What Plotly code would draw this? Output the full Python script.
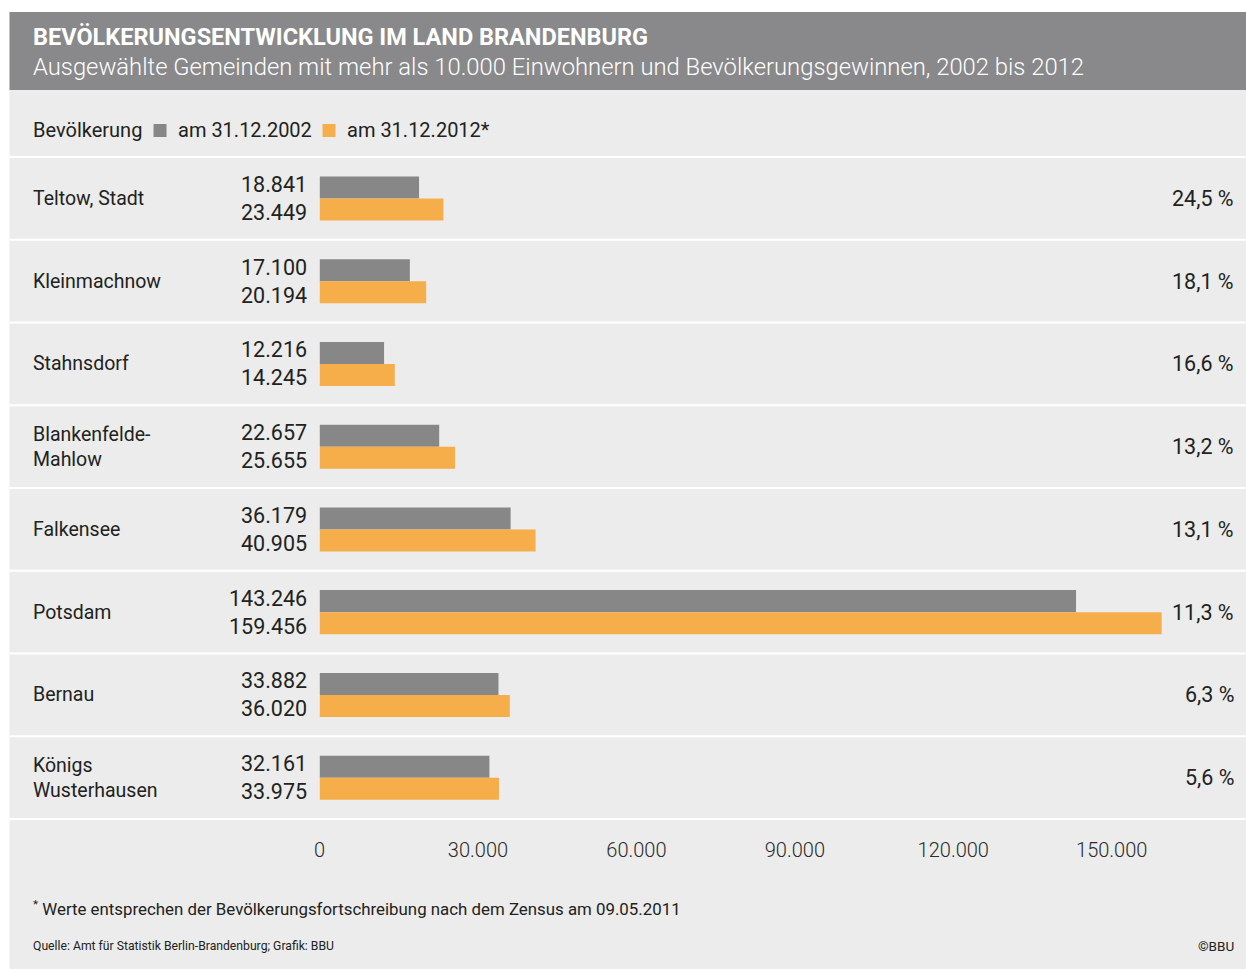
import plotly.graph_objects as go

# ---------------- data ----------------
gemeinden = ["Teltow, Stadt", "Kleinmachnow", "Stahnsdorf", "Blankenfelde-<br>Mahlow",
             "Falkensee", "Potsdam", "Bernau", "Königs<br>Wusterhausen"]
bev_2002 = [18841, 17100, 12216, 22657, 36179, 143246, 33882, 32161]
bev_2012 = [23449, 20194, 14245, 25655, 40905, 159456, 36020, 33975]
gewinn_pct = [24.5, 18.1, 16.6, 13.2, 13.1, 11.3, 6.3, 5.6]
tick_vals = [0, 30000, 60000, 90000, 120000, 150000]
tick_text = ["0", "30.000", "60.000", "90.000", "120.000", "150.000"]

title = "BEVÖLKERUNGSENTWICKLUNG IM LAND BRANDENBURG"
subtitle = "Ausgewählte Gemeinden mit mehr als 10.000 Einwohnern und Bevölkerungsgewinnen, 2002 bis 2012"
legend_title = "Bevölkerung"
legend_names = ["am 31.12.2002", "am 31.12.2012*"]
footnote = "<sup>*</sup> Werte entsprechen der Bevölkerungsfortschreibung nach dem Zensus am 09.05.2011"
source = "Quelle: Amt für Statistik Berlin-Brandenburg; Grafik: BBU"
copyright_txt = "©BBU"

# ---------------- styles ----------------
W, H = 1246, 969
FONT = "Roboto"
TXT = "#222221"
C_GRAY = "#878788"
C_ORANGE = "#f6ae4b"
C_HEADER = "#89898b"
C_PANEL = "#ebeceb"

# horizontal compensation for the page rendering (screen = OFF + SC * figure)
OFF, SC = 5.5, 0.995

def fpx(px):
    return (px - OFF) / SC

def fx(px):
    return fpx(px) / W

def fy(py):
    return 1 - py / H

def f(size, color=TXT, weight=400):
    return dict(family=FONT, size=size, color=color, weight=weight)

row_top, row_bot = 157, 819
n = len(gemeinden)
row_h = (row_bot - row_top) / n
bar_px = 22
d0, d150, d1 = fpx(319), fpx(1111), fpx(1200)
x_max = (d1 - d0) / ((d150 - d0) / 150000)

fmt = lambda v: f"{v:,}".replace(",", ".")

fig = go.Figure()
fig.add_trace(go.Bar(y=gemeinden, x=bev_2002, orientation="h", name=legend_names[0],
                     marker=dict(color=C_GRAY, line=dict(width=0)), hoverinfo="x+y"))
fig.add_trace(go.Bar(y=gemeinden, x=bev_2012, orientation="h", name=legend_names[1],
                     marker=dict(color=C_ORANGE, line=dict(width=0)), hoverinfo="x+y"))

shapes = []
shapes.append(dict(type="rect", xref="paper", yref="paper", x0=fx(9), x1=1, y0=0, y1=fy(12),
                   fillcolor=C_PANEL, line=dict(width=0), layer="below"))
shapes.append(dict(type="rect", xref="paper", yref="paper", x0=fx(9), x1=1, y0=fy(90), y1=fy(12),
                   fillcolor=C_HEADER, line=dict(width=0), layer="below"))
for i in range(n + 1):
    yy = row_top + i * row_h
    shapes.append(dict(type="line", xref="paper", yref="paper", x0=fx(9), x1=1, y0=fy(yy), y1=fy(yy),
                       line=dict(color="white", width=2), layer="below"))
shapes.append(dict(type="rect", xref="paper", yref="paper", x0=fx(153), x1=fx(166), y0=fy(137), y1=fy(124),
                   fillcolor=C_GRAY, line=dict(width=0)))
shapes.append(dict(type="rect", xref="paper", yref="paper", x0=fx(322), x1=fx(335), y0=fy(137), y1=fy(124),
                   fillcolor=C_ORANGE, line=dict(width=0)))

ann = []
ann.append(dict(text=f"<b>{title}</b>", xref="paper", yref="paper", x=fx(30), y=fy(37), xanchor="left",
                yanchor="middle", showarrow=False, font=f(23.5, "white", 700)))
ann.append(dict(text=subtitle, xref="paper", yref="paper", x=fx(30), y=fy(67), xanchor="left",
                yanchor="middle", showarrow=False, font=f(23.8, "white", 300)))
ann.append(dict(text=legend_title, xref="paper", yref="paper", x=fx(30), y=fy(130), xanchor="left",
                yanchor="middle", showarrow=False, font=f(20)))
ann.append(dict(text=legend_names[0], xref="paper", yref="paper", x=fx(175), y=fy(130), xanchor="left",
                yanchor="middle", showarrow=False, font=f(20)))
ann.append(dict(text=legend_names[1], xref="paper", yref="paper", x=fx(344), y=fy(130), xanchor="left",
                yanchor="middle", showarrow=False, font=f(20)))

for g, a, b, p in zip(gemeinden, bev_2002, bev_2012, gewinn_pct):
    ann.append(dict(text=g, xref="paper", yref="y", x=fx(30), y=g, xanchor="left", yanchor="middle",
                    align="left", showarrow=False, font=f(19.5)))
    ann.append(dict(text=fmt(a) + "<br>" + fmt(b), xref="x", yref="y", x=0, y=g, xanchor="right",
                    yanchor="middle", align="right", xshift=-11 / SC, showarrow=False, font=f(21.5)))
    ann.append(dict(text=f"{p:.1f}".replace(".", ",") + " %", xref="paper", yref="y", x=fx(1235), y=g,
                    xanchor="right", yanchor="middle", showarrow=False, font=f(21.5)))

ann.append(dict(text=footnote, xref="paper", yref="paper", x=fx(30), y=fy(908), xanchor="left",
                yanchor="middle", showarrow=False, font=f(16.85)))
ann.append(dict(text=source, xref="paper", yref="paper", x=fx(30), y=fy(946), xanchor="left",
                yanchor="middle", showarrow=False, font=f(12.2)))
ann.append(dict(text=copyright_txt, xref="paper", yref="paper", x=fx(1235), y=fy(946), xanchor="right",
                yanchor="middle", showarrow=False, font=f(13.5)))

fig.update_layout(
    width=W, height=H, margin=dict(l=0, r=0, t=0, b=0),
    paper_bgcolor="white", plot_bgcolor="rgba(0,0,0,0)",
    barmode="group", bargap=1 - 2 * bar_px / row_h, bargroupgap=0,
    showlegend=False, shapes=shapes, annotations=ann,
    font=dict(family=FONT, color=TXT),
    xaxis=dict(domain=[d0 / W, d1 / W], range=[0, x_max], tickvals=tick_vals, ticktext=tick_text,
               showgrid=False, zeroline=False, showline=False, ticks="outside", ticklen=13,
               tickcolor="rgba(0,0,0,0)", tickfont=f(20, "#2a2a2a", 300),
               fixedrange=True),
    yaxis=dict(domain=[fy(row_bot), fy(row_top)], categoryorder="array", categoryarray=gemeinden,
               range=[n - 0.5, -0.5], showticklabels=False, showgrid=False, zeroline=False,
               showline=False, fixedrange=True),
)

fig.write_html("out.html", config={"displayModeBar": False})
